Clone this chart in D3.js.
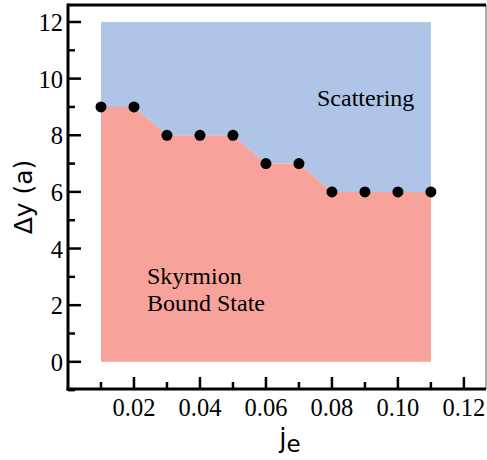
<!DOCTYPE html>
<html>
<head>
<meta charset="utf-8">
<script src="https://cdnjs.cloudflare.com/ajax/libs/d3/7.9.0/d3.min.js"></script>
<style>
  body { margin: 0; background: #fff; }
</style>
</head>
<body>
<div id="grafico"></div>
<script>
// dados
const je      = [0.01, 0.02, 0.03, 0.04, 0.05, 0.06, 0.07, 0.08, 0.09, 0.10, 0.11];
const deltaY  = [9, 9, 8, 8, 8, 7, 7, 6, 6, 6, 6];
const yTopo   = 12;   // limite superior da região de espalhamento
const xTicks  = [0.02, 0.04, 0.06, 0.08, 0.10, 0.12];
const yTicks  = [0, 2, 4, 6, 8, 10, 12];

const W = 487, H = 460;
const margem = { top: 5, right: 1, bottom: 71, left: 68 };

const svg = d3.select("#grafico").append("svg")
  .attr("width", W).attr("height", H);

const x = d3.scaleLinear().domain([0, 0.1267]).range([margem.left, W - margem.right]);
const y = d3.scaleLinear().domain([-0.96, 12.6]).range([H - margem.bottom, margem.top]);

const COR_AZUL = "#aec5e7";
const COR_VERM = "#f7a29b";

// região de espalhamento (azul)
const pontos = je.map((d, i) => [d, deltaY[i]]);
svg.append("path")
  .attr("d", d3.area().x(d => x(d[0])).y0(y(yTopo)).y1(d => y(d[1]))(pontos))
  .attr("fill", COR_AZUL);

// estado ligado (vermelho)
svg.append("path")
  .attr("d", d3.area().x(d => x(d[0])).y0(y(0)).y1(d => y(d[1]))(pontos))
  .attr("fill", COR_VERM);

// pontos
svg.selectAll("circle.pt").data(pontos).join("circle")
  .attr("class", "pt")
  .attr("cx", d => x(d[0])).attr("cy", d => y(d[1]))
  .attr("r", 5.5).attr("fill", "#000");

// textos das regiões
const serif = "'Liberation Serif', 'DejaVu Serif', serif";
svg.append("text").attr("x", 317).attr("y", 106)
  .attr("font-family", serif).attr("font-size", 24).text("Scattering");
svg.append("text").attr("x", 147).attr("y", 284)
  .attr("font-family", serif).attr("font-size", 24).text("Skyrmion");
svg.append("text").attr("x", 147).attr("y", 311)
  .attr("font-family", serif).attr("font-size", 24).text("Bound State");

// moldura: direita fina e cinza, topo/esquerda/baixo grossos
const x0 = margem.left, x1 = W - margem.right, y0 = H - margem.bottom, y1 = margem.top;
svg.append("line").attr("x1", x1).attr("x2", x1).attr("y1", y1).attr("y2", y0)
  .attr("stroke", "#777").attr("stroke-width", 1.2);
svg.append("line").attr("x1", x0).attr("x2", x1).attr("y1", y1).attr("y2", y1)
  .attr("stroke", "#000").attr("stroke-width", 3);

// eixo x (ticks para dentro)
const eixoX = svg.append("g").attr("transform", `translate(0,${y0})`);
const menoresX = d3.range(1, 13).map(i => i * 0.01);
eixoX.selectAll("line.t").data(menoresX).join("line")
  .attr("x1", d => x(d)).attr("x2", d => x(d))
  .attr("y1", 0).attr("y2", (d, i) => (i % 2 === 1 ? -12 : -7))
  .attr("stroke", "#000").attr("stroke-width", 2.5);
eixoX.append("line").attr("x1", x0 - 1.5).attr("x2", x1).attr("stroke", "#000").attr("stroke-width", 3);
eixoX.selectAll("text").data(xTicks).join("text")
  .attr("x", d => x(d)).attr("y", 27)
  .attr("text-anchor", "middle")
  .attr("font-family", serif).attr("font-size", 24.5)
  .text(d => d.toFixed(2));

// eixo y
const eixoY = svg.append("g").attr("transform", `translate(${x0},0)`);
const menoresY = d3.range(-1, 13);
eixoY.selectAll("line.t").data(menoresY).join("line")
  .attr("y1", d => y(d)).attr("y2", d => y(d))
  .attr("x1", 0).attr("x2", d => (d % 2 === 0 ? 13 : 7))
  .attr("stroke", "#000").attr("stroke-width", 2.5);
eixoY.append("line").attr("y1", y1 - 1.5).attr("y2", y0 + 1.5).attr("stroke", "#000").attr("stroke-width", 3);
eixoY.selectAll("text").data(yTicks).join("text")
  .attr("x", -5).attr("y", d => y(d) + 9)
  .attr("text-anchor", "end")
  .attr("font-family", serif).attr("font-size", 24.5)
  .text(d => d);

// rótulos dos eixos
const sans = "'DejaVu Sans', sans-serif";
svg.append("text")
  .attr("transform", `translate(32,${(y0 + y1) / 2}) rotate(-90)`)
  .attr("text-anchor", "middle")
  .attr("font-family", sans).attr("font-size", 25)
  .text("Δy (a)");
const rotX = svg.append("text")
  .attr("x", 290).attr("y", 447)
  .attr("text-anchor", "middle")
  .attr("font-family", sans).attr("font-size", 26);
rotX.append("tspan").text("j");
rotX.append("tspan").attr("dy", 5).attr("font-size", 23).text("e");
</script>
</body>
</html>
